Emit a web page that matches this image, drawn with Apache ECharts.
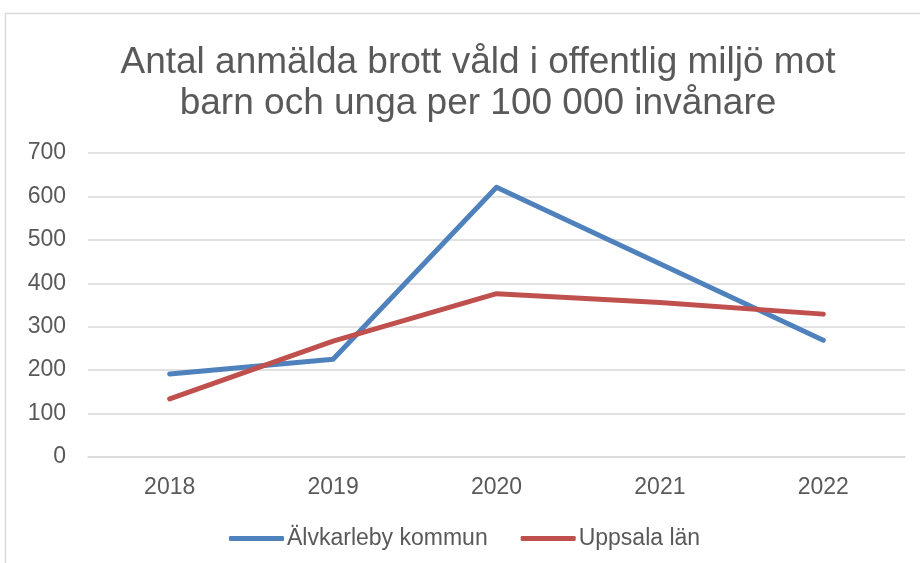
<!DOCTYPE html>
<html>
<head>
<meta charset="utf-8">
<script src="https://cdn.jsdelivr.net/npm/echarts@6/dist/echarts.min.js"></script>
<style>
  html, body { margin: 0; padding: 0; background: #fff; }
  #chart { width: 920px; height: 563px; }
</style>
</head>
<body>
<div id="chart"></div>
<script>
const years = ['2018', '2019', '2020', '2021', '2022'];
const alvkarleby = [191, 225, 621, 445, 269];
const uppsala = [134, 267, 376, 356, 329];
const yTicks = [0, 100, 200, 300, 400, 500, 600, 700];

const chart = echarts.init(document.getElementById('chart'), null, { renderer: 'canvas' });
const font = 'Liberation Sans, Arial, sans-serif';
const textColor = '#595959';

chart.setOption({
  animation: false,
  backgroundColor: '#fff',
  graphic: [{
    type: 'rect',
    shape: { x: 5.5, y: 13.5, width: 930, height: 570 },
    style: { fill: 'none', stroke: '#d9d9d9', lineWidth: 1.5 },
    silent: true
  }],
  title: {
    text: 'Antal anmälda brott våld i offentlig miljö mot\nbarn och unga per 100 000 invånare',
    left: 473,
    textAlign: 'center',
    top: 37,
    textStyle: {
      fontFamily: font,
      fontSize: 37,
      fontWeight: 'normal',
      color: textColor,
      lineHeight: 41
    }
  },
  color: ['#4f81bd', '#c0504d'],
  legend: {
    top: 522,
    left: 224,
    itemWidth: 55,
    itemHeight: 5,
    itemGap: 33,
    icon: 'roundRect',
    textStyle: { fontFamily: font, fontSize: 23, color: textColor, padding: [0, 0, 0, -2] },
    data: ['Älvkarleby kommun', 'Uppsala län']
  },
  grid: { left: 88, right: 15, top: 153, bottom: 106, containLabel: false },
  xAxis: {
    type: 'category',
    data: years,
    boundaryGap: true,
    axisLine: { show: true, lineStyle: { color: '#d9d9d9', width: 1.5 } },
    axisTick: { show: false },
    axisLabel: { fontFamily: font, fontSize: 23, color: textColor, margin: 19 }
  },
  yAxis: {
    type: 'value',
    min: yTicks[0],
    max: yTicks[yTicks.length - 1],
    interval: 100,
    axisLine: { show: false },
    axisTick: { show: false },
    splitLine: { lineStyle: { color: '#d9d9d9', width: 1.5 } },
    axisLabel: { fontFamily: font, fontSize: 23, color: textColor, margin: 22 }
  },
  series: [
    {
      name: 'Älvkarleby kommun',
      type: 'line',
      data: alvkarleby,
      symbol: 'none',
      lineStyle: { width: 5, cap: 'round', join: 'round' }
    },
    {
      name: 'Uppsala län',
      type: 'line',
      data: uppsala,
      symbol: 'none',
      lineStyle: { width: 5, cap: 'round', join: 'round' }
    }
  ]
});
</script>
</body>
</html>
